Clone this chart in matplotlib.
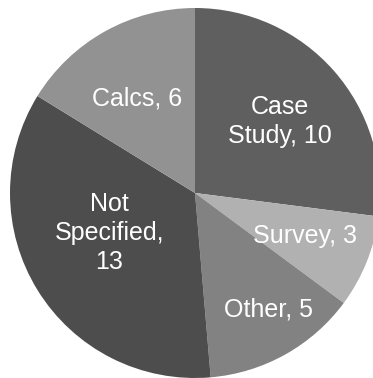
import numpy as np
import matplotlib.pyplot as plt

categories = ["Case\nStudy", "Survey", "Other", "Not\nSpecified,\n", "Calcs"]
values = [10, 3, 5, 13, 6]
colors = ["#5f5f5f", "#b1b1b1", "#828282", "#4d4d4d", "#929292"]
# label placement: fraction of radius and angle tweak (deg) from wedge middle
label_dist = [0.6, 0.64, 0.745, 0.51, 0.6]
label_shift = [-1.5, 0.5, 2.8, -6.7, 2.0]

plt.rcParams['font.family'] = ['Liberation Sans', 'DejaVu Sans']

fig = plt.figure(figsize=(3.73, 3.78), dpi=100)
ax = fig.add_axes([0, 0, 1, 1])

wedges, _ = ax.pie(values, colors=colors, startangle=90, counterclock=False,
                   radius=1.0, wedgeprops=dict(linewidth=0))

for w, cat, v, d, s in zip(wedges, categories, values, label_dist, label_shift):
    mid = np.deg2rad((w.theta1 + w.theta2) / 2 + s)
    if cat.endswith("\n"):
        txt = cat + str(v)
    else:
        txt = f"{cat}, {v}"
    ax.text(d * np.cos(mid), d * np.sin(mid), txt, color="white", fontsize=18,
            ha="center", va="center", linespacing=1.25)

# place pie so it fills (and is slightly clipped by) the canvas
scale = 185.0
cx, cy = 195.0, 193.0
ax.set_aspect('auto')
ax.set_xlim(-cx / scale, (373 - cx) / scale)
ax.set_ylim(-(378 - cy) / scale, cy / scale)
ax.axis('off')

fig.savefig("out.png", dpi=100)
